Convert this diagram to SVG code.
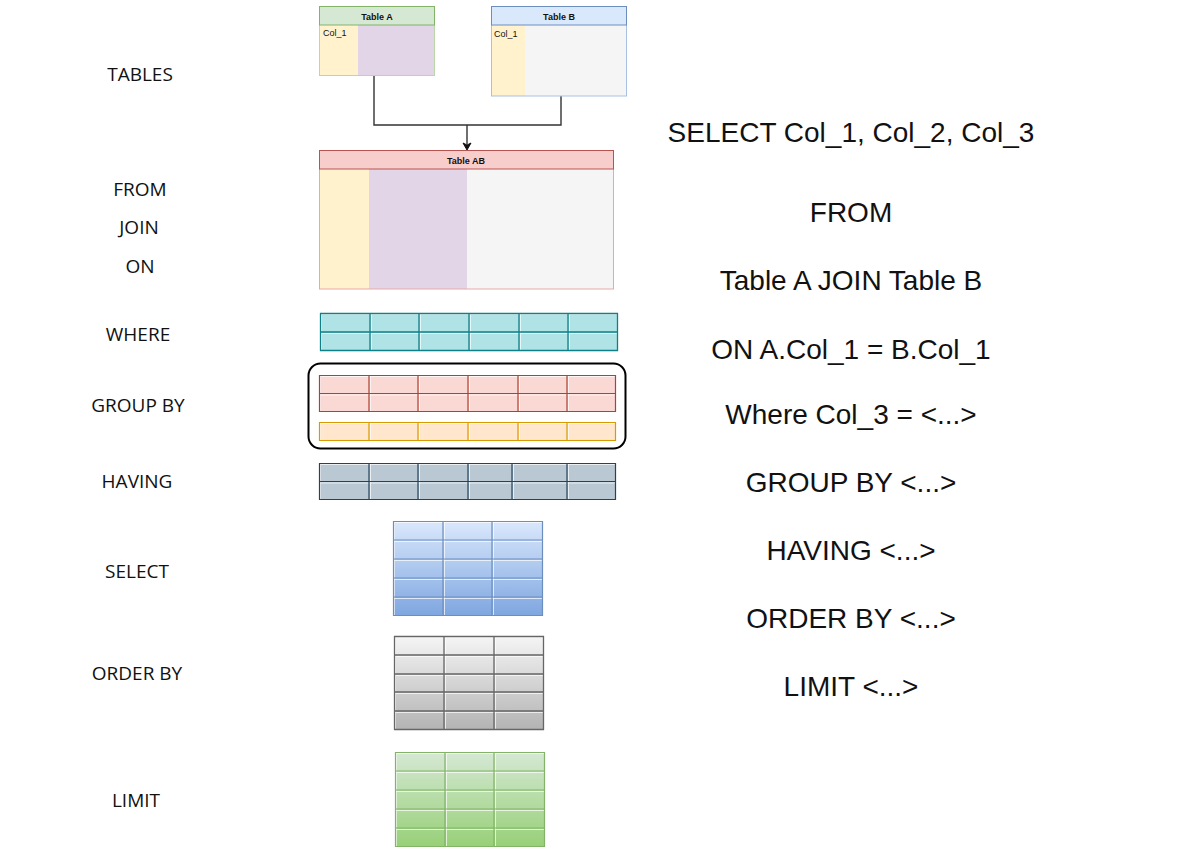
<svg xmlns="http://www.w3.org/2000/svg" width="1200" height="854" viewBox="0 0 1200 854">
<style>
.lbl{font-family:"Open Sans","Liberation Sans",sans-serif;font-size:19px;fill:#111;text-anchor:middle}
.sql{font-family:"Liberation Sans",Arial,sans-serif;font-size:28px;fill:#111;text-anchor:middle}
.ttl{font-family:"Liberation Sans",Arial,sans-serif;font-size:9px;font-weight:bold;fill:#111;text-anchor:middle}
.col{font-family:"Liberation Sans",Arial,sans-serif;font-size:9px;fill:#111}
.hl{fill:none;stroke:#fff;stroke-opacity:.7;stroke-width:1}
.conn{fill:none;stroke:#333;stroke-width:1.4}
.head{fill:#111;stroke:#111;stroke-width:1}
</style>
<defs>
<linearGradient id="gBlue" x1="0" y1="0" x2="0" y2="1"><stop offset="0" stop-color="#dae8fc"/><stop offset="1" stop-color="#7ea6e0"/></linearGradient>
<linearGradient id="gGray" x1="0" y1="0" x2="0" y2="1"><stop offset="0" stop-color="#f5f5f5"/><stop offset="1" stop-color="#b3b3b3"/></linearGradient>
<linearGradient id="gGreen" x1="0" y1="0" x2="0" y2="1"><stop offset="0" stop-color="#d5e8d4"/><stop offset="1" stop-color="#97d077"/></linearGradient>
</defs>
<rect width="1200" height="854" fill="#fff"/>

<g id="left-labels">
<text class="lbl" x="140" y="81">TABLES</text>
<text class="lbl" x="140" y="196">FROM</text>
<text class="lbl" x="139" y="234">JOIN</text>
<text class="lbl" x="140" y="273">ON</text>
<text class="lbl" x="138" y="341">WHERE</text>
<text class="lbl" x="138" y="412">GROUP BY</text>
<text class="lbl" x="137" y="488">HAVING</text>
<text class="lbl" x="137" y="578">SELECT</text>
<text class="lbl" x="137" y="680">ORDER BY</text>
<text class="lbl" x="136" y="807">LIMIT</text>
</g>

<g id="sql-text">
<text class="sql" x="851" y="142">SELECT Col_1, Col_2, Col_3</text>
<text class="sql" x="851" y="222">FROM</text>
<text class="sql" x="851" y="290">Table A JOIN Table B</text>
<text class="sql" x="851" y="359">ON A.Col_1 = B.Col_1</text>
<text class="sql" x="851" y="424">Where Col_3 = &lt;...&gt;</text>
<text class="sql" x="851" y="492">GROUP BY &lt;...&gt;</text>
<text class="sql" x="851" y="560">HAVING &lt;...&gt;</text>
<text class="sql" x="851" y="628">ORDER BY &lt;...&gt;</text>
<text class="sql" x="851" y="696">LIMIT &lt;...&gt;</text>
</g>

<g id="connectors">
<path class="conn" d="M374,76 V125 H561 V96"/>
<path class="conn" d="M467,125 V144"/>
<path class="head" d="M463,143 L467,150 L471,143 L467,145 Z"/>
</g>

<g id="tableA">
<rect x="320" y="25" width="38" height="50" fill="#fff2cc"/>
<rect x="358" y="25" width="76" height="50" fill="#e1d5e7"/>
<rect x="319.5" y="6.5" width="115" height="69" fill="none" stroke="#b9d7a8" stroke-width="1"/>
<rect x="319.5" y="6.5" width="115" height="18.5" fill="#d5e8d4" stroke="#82b366" stroke-width="1"/>
<text class="ttl" x="377" y="19.5">Table A</text>
<text class="col" x="323" y="36">Col_1</text>
</g>

<g id="tableB">
<rect x="492" y="25" width="33" height="71" fill="#fff2cc"/>
<rect x="525" y="25" width="101" height="71" fill="#f5f5f5"/>
<rect x="491.5" y="6.5" width="135" height="89.5" fill="none" stroke="#a9c0e0" stroke-width="1"/>
<rect x="491.5" y="6.5" width="135" height="18.5" fill="#dae8fc" stroke="#6c8ebf" stroke-width="1"/>
<text class="ttl" x="559" y="19.5">Table B</text>
<text class="col" x="494" y="37">Col_1</text>
</g>

<g id="tableAB">
<rect x="320" y="169" width="49" height="120" fill="#fff2cc"/>
<rect x="369" y="169" width="98" height="120" fill="#e1d5e7"/>
<rect x="467" y="169" width="146" height="120" fill="#f5f5f5"/>
<rect x="319.5" y="150.5" width="294" height="138.5" fill="none" stroke="#e6a9a7" stroke-width="1"/>
<rect x="319.5" y="150.5" width="294" height="18.5" fill="#f8cecc" stroke="#b85450" stroke-width="1"/>
<text class="ttl" x="466" y="163.5">Table AB</text>
</g>

<g id="where-table">
<rect x="320" y="313" width="298" height="38" fill="#b0e3e6"/>
<path class="hl" d="M371.5,314V350M420.5,314V350M470.5,314V350M520.5,314V350M569.5,314V350M321,333.5H617M321.5,314V350M321,314.5H617"/>
<path d="M320,313.5H618M320,332H618M320,350.5H618M320.5,313V351M370,313V351M419,313V351M469,313V351M519,313V351M568,313V351M617.5,313V351" fill="none" stroke="#0e8088" stroke-width="1.3"/>
</g>

<g id="groupby">
<rect x="308.5" y="363.5" width="317" height="85" rx="12" fill="none" stroke="#000" stroke-width="2"/>
<rect x="319" y="375" width="297" height="37" fill="#fad9d5"/>
<path class="hl" d="M370.5,376V411M419.5,376V411M469.5,376V411M519.5,376V411M568.5,376V411M320,395H615M320.5,376V411M320,376.5H615"/>
<path d="M319,375.5H616M319,393.5H616M319,411.5H616M319.5,375V412M369,375V412M418,375V412M468,375V412M518,375V412M567,375V412M615.5,375V412" fill="none" stroke="#ae4132" stroke-width="1.2"/>
<rect x="319" y="422" width="297" height="19" fill="#ffe6cc"/>
<path class="hl" d="M370.5,423V440M419.5,423V440M469.5,423V440M519.5,423V440M568.5,423V440M320.5,423V440M320,423.5H615"/>
<path d="M319,422.5H616M319,440.5H616M319.5,422V441M369,422V441M418,422V441M468,422V441M518,422V441M567,422V441M615.5,422V441" fill="none" stroke="#d79b00" stroke-width="1.2"/>
</g>

<g id="having-table">
<rect x="319" y="463" width="297" height="37" fill="#bac8d3"/>
<path class="hl" d="M370.5,464V499M419.5,464V499M469.5,464V499M513.5,464V499M568.5,464V499M320,483H615M320.5,464V499M320,464.5H615"/>
<path d="M319,463.5H616M319,481.5H616M319,499.5H616M319.5,463V500M369,463V500M418,463V500M468,463V500M512,463V500M567,463V500M615.5,463V500" fill="none" stroke="#23445d" stroke-width="1.2"/>
</g>

<g id="select-table">
<rect x="393" y="521" width="150" height="95" fill="url(#gBlue)"/>
<path class="hl" d="M444.5,522V615M493.5,522V615M394.5,522V615M394,522.5H542M394,541.5H542M394,560.5H542M394,579.5H542M394,598.5H542"/>
<path d="M393,521.5H543M393,540H543M393,559H543M393,578H543M393,597H543M393,615.5H543M393.5,521V616M443,521V616M492,521V616M542.5,521V616" fill="none" stroke="#6c8ebf" stroke-width="1.2"/>
</g>

<g id="orderby-table">
<rect x="394" y="636" width="150" height="94" fill="url(#gGray)"/>
<path class="hl" d="M445.5,637V729M495.5,637V729M395.5,637V729M395,637.5H543M395,656.5H543M395,675.5H543M395,693.5H543M395,712.5H543"/>
<path d="M394,636.5H544M394,655H544M394,674H544M394,692H544M394,711H544M394,729.5H544M394.5,636V730M444,636V730M494,636V730M543.5,636V730" fill="none" stroke="#666" stroke-width="1.3"/>
</g>

<g id="limit-table">
<rect x="395" y="752" width="150" height="95" fill="url(#gGreen)"/>
<path class="hl" d="M446.5,753V846M495.5,753V846M396.5,753V846M396,753.5H544M396,772.5H544M396,791.5H544M396,810.5H544M396,829.5H544"/>
<path d="M395,752.5H545M395,771H545M395,790H545M395,809H545M395,828H545M395,846.5H545M395.5,752V847M445,752V847M494,752V847M544.5,752V847" fill="none" stroke="#82b366" stroke-width="1.2"/>
</g>
</svg>
